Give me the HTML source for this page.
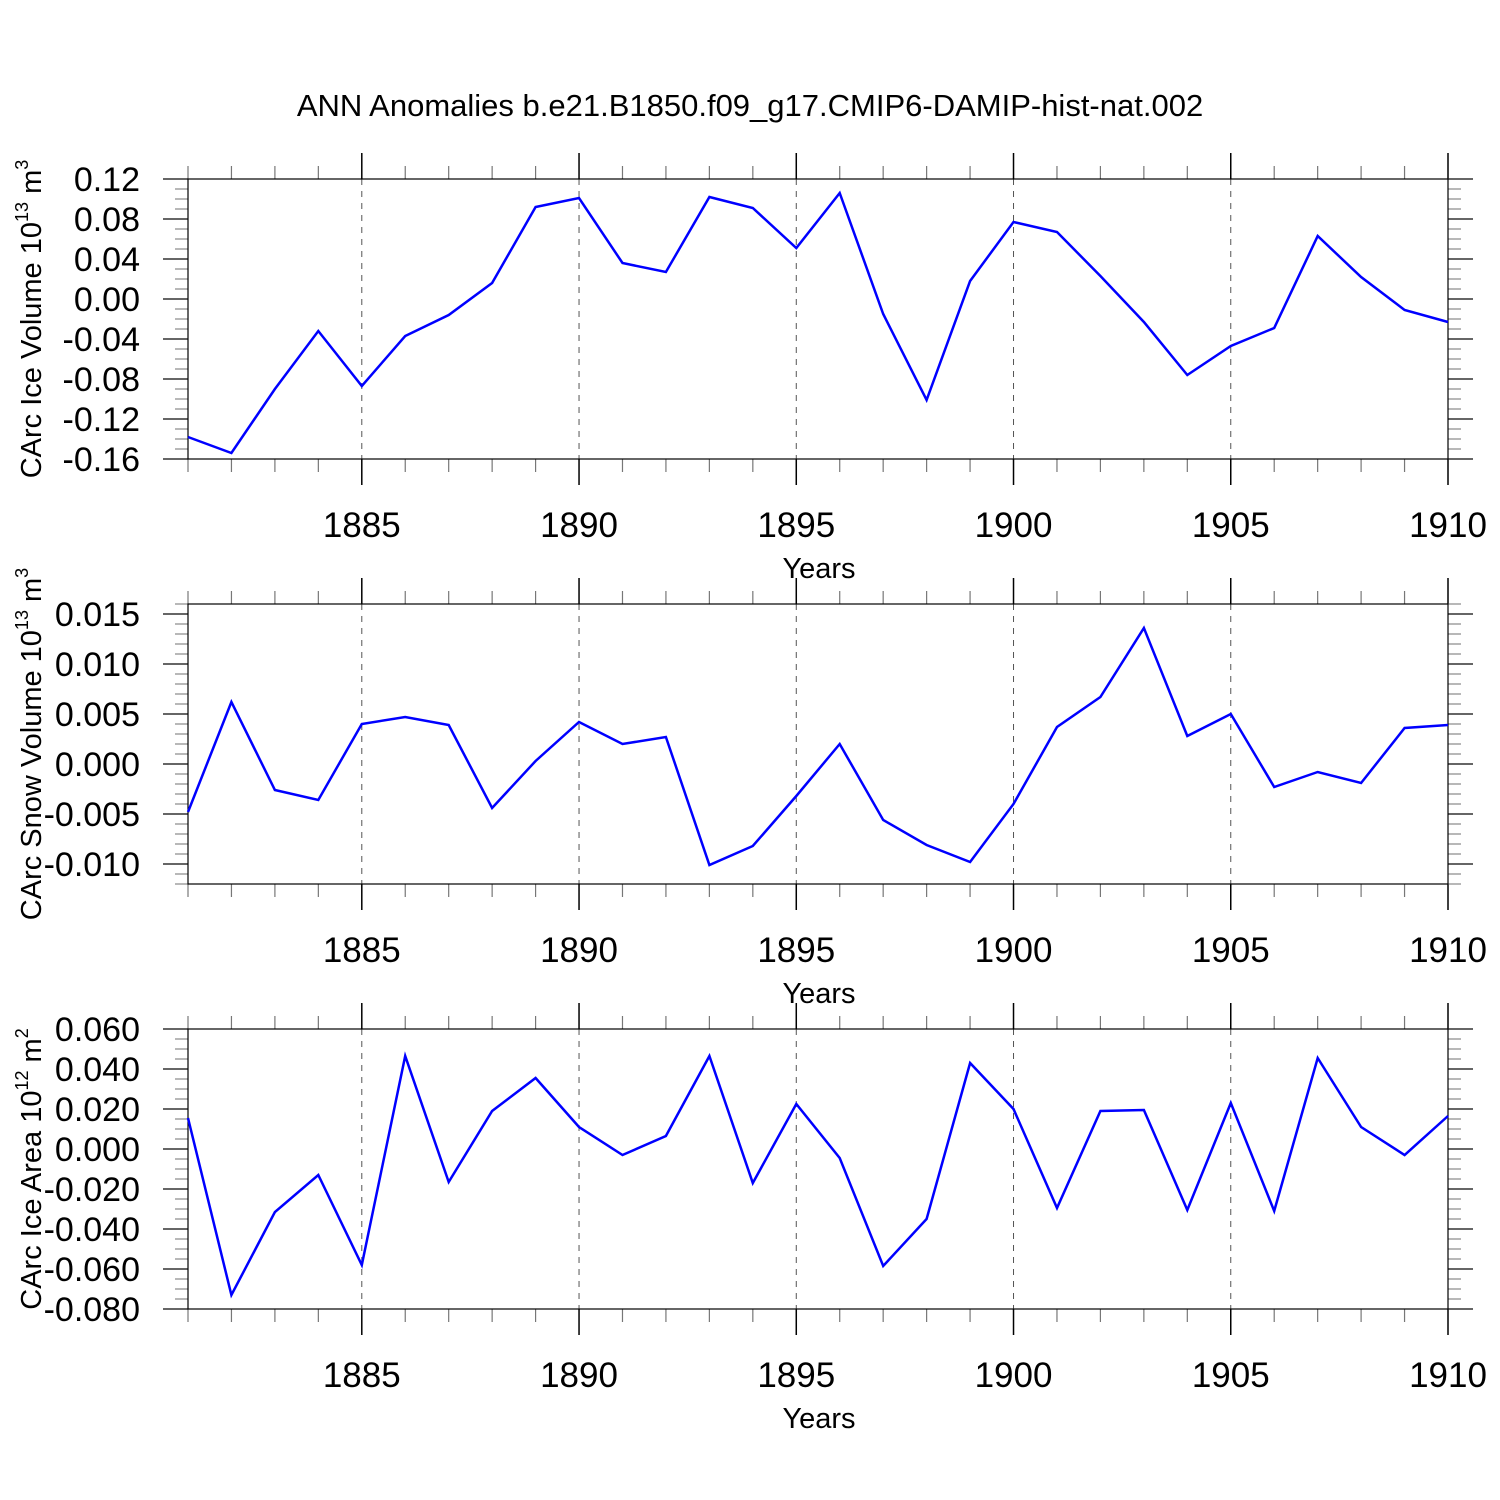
<!DOCTYPE html>
<html><head><meta charset="utf-8"><style>
html,body{margin:0;padding:0;background:#fff}
svg{display:block;font-family:"Liberation Sans",sans-serif}
</style></head><body>
<svg id="chart" width="1500" height="1500" viewBox="0 0 1500 1500" xmlns="http://www.w3.org/2000/svg">
<rect width="1500" height="1500" fill="#fff"/>
<text x="750" y="116" font-size="31" text-anchor="middle">ANN Anomalies b.e21.B1850.f09_g17.CMIP6-DAMIP-hist-nat.002</text>
</svg>
<script>
const years = [1881,1882,1883,1884,1885,1886,1887,1888,1889,1890,1891,1892,1893,1894,1895,1896,1897,1898,1899,1900,1901,1902,1903,1904,1905,1906,1907,1908,1909,1910];
const iceVolume = [-0.138,-0.154,-0.090,-0.032,-0.087,-0.037,-0.016,0.016,0.092,0.101,0.036,0.027,0.102,0.091,0.051,0.106,-0.015,-0.101,0.018,0.077,0.067,0.023,-0.023,-0.076,-0.047,-0.029,0.063,0.022,-0.011,-0.023];
const snowVolume = [-0.0048,0.0062,-0.0026,-0.0036,0.0040,0.0047,0.0039,-0.0044,0.0003,0.0042,0.0020,0.0027,-0.0101,-0.0082,-0.0032,0.0020,-0.0056,-0.0081,-0.0098,-0.0040,0.0037,0.0067,0.0136,0.0028,0.0050,-0.0023,-0.0008,-0.0019,0.0036,0.0039];
const iceArea = [0.0155,-0.073,-0.0315,-0.013,-0.058,0.0465,-0.0165,0.019,0.0355,0.011,-0.003,0.0065,0.0465,-0.017,0.0225,-0.0045,-0.0585,-0.035,0.043,0.020,-0.0295,0.019,0.0195,-0.0305,0.023,-0.031,0.0455,0.011,-0.003,0.0165];
const xTickLabels = ["1885","1890","1895","1900","1905","1910"];
const iceVolTicks = ["0.12","0.08","0.04","0.00","-0.04","-0.08","-0.12","-0.16"];
const snowTicks = ["0.015","0.010","0.005","0.000","-0.005","-0.010"];
const areaTicks = ["0.060","0.040","0.020","0.000","-0.020","-0.040","-0.060","-0.080"];

const NS="http://www.w3.org/2000/svg";
const svg=document.getElementById('chart');
function mk(tag,attrs,parent){const e=document.createElementNS(NS,tag);for(const k in attrs)e.setAttribute(k,attrs[k]);(parent||svg).appendChild(e);return e;}
const X0=188,X1=1448,XMIN=1881,XMAX=1910;
function xs(v){return X0+(v-XMIN)/(XMAX-XMIN)*(X1-X0);}

const panels=[
 {name:'ice-volume',top:179,ymin:-0.16,ymax:0.12,data:iceVolume,ticks:iceVolTicks,minor:0.01,title:['CArc Ice Volume 10','13',' m','3']},
 {name:'snow-volume',top:604,ymin:-0.012,ymax:0.016,data:snowVolume,ticks:snowTicks,minor:0.001,title:['CArc Snow Volume 10','13',' m','3']},
 {name:'ice-area',top:1029,ymin:-0.08,ymax:0.06,data:iceArea,ticks:areaTicks,minor:0.005,title:['CArc Ice Area 10','12',' m','2']}
];
panels.forEach(p=>{
 const T=p.top,B=p.top+280;
 const ys=v=>B-(v-p.ymin)/(p.ymax-p.ymin)*(B-T);
 const g=mk('g',{});
 
 
 xTickLabels.forEach(l=>{const v=+l;if(v<XMAX){const ln=mk('line',{x1:xs(v),x2:xs(v),y1:T,y2:B,stroke:'#555','stroke-width':1,'stroke-dasharray':'6,6'},g);
  
  }});
 years.forEach(y=>{const maj=(y%5===0);const x=xs(y);
  mk('line',{x1:x,x2:x,y1:T,y2:T-(maj?26:13),stroke:maj?'#000':'#777','stroke-width':maj?1.5:1.2},g);
  mk('line',{x1:x,x2:x,y1:B,y2:B+(maj?26:13),stroke:maj?'#000':'#777','stroke-width':maj?1.5:1.2},g);});
 const n=Math.round((p.ymax-p.ymin)/p.minor);
 for(let i=0;i<=n;i++){const v=p.ymin+i*p.minor;const y=ys(v);
  const isMaj=p.ticks.some(t=>Math.abs(+t-v)<p.minor/10);
  const len=isMaj?25:13;
  mk('line',{x1:X0,x2:X0-len,y1:y,y2:y,stroke:isMaj?'#333':'#888','stroke-width':isMaj?1.5:1.2},g);
  mk('line',{x1:X1,x2:X1+len,y1:y,y2:y,stroke:isMaj?'#333':'#888','stroke-width':isMaj?1.5:1.2},g);}
 const fr=mk('rect',{x:X0,y:T,width:X1-X0,height:B-T,fill:'none',stroke:'#000','stroke-width':1.2},g);
 
 
 p.ticks.forEach(t=>{const tx=mk('text',{x:140,y:ys(+t)+12,'font-size':34,'text-anchor':'end'},g);tx.textContent=t;
  
  });
 xTickLabels.forEach(l=>{const tx=mk('text',{x:xs(+l),y:B+78,'font-size':35,'text-anchor':'middle'},g);tx.textContent=l;
  
  });
 const xt=mk('text',{x:819,y:B+119,'font-size':29,'text-anchor':'middle'},g);xt.textContent='Years';
 
 
 const yt=mk('text',{transform:`translate(41,${T+140}) rotate(-90)`,'font-size':29,'text-anchor':'middle'},g);
 
 
 p.title.forEach((s,i)=>{const ts=mk('tspan',{},yt);ts.textContent=s;
  if(i%2===1){ts.setAttribute('font-size','18');ts.setAttribute('dy','-13');}
  else if(i>0){ts.setAttribute('dy','13');}});
 const pts=p.data.map((v,i)=>xs(years[i]).toFixed(1)+','+ys(v).toFixed(1)).join(' ');
 const pl=mk('polyline',{points:pts,fill:'none',stroke:'#0000ff','stroke-width':2.5,'stroke-linejoin':'miter'},g);
 
 
});
</script>
</body></html>
